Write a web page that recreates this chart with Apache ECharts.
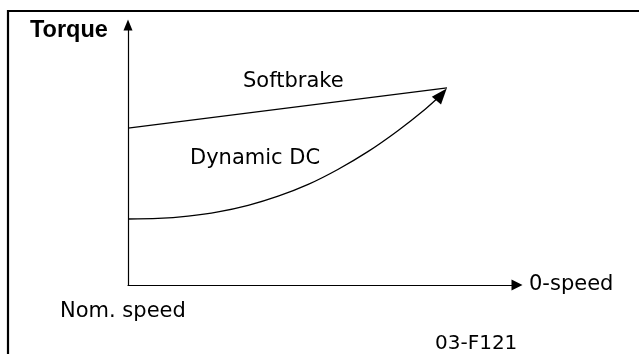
<!DOCTYPE html>
<html>
<head>
    <meta charset="utf-8">
    <title>Torque</title>
    <script src="https://cdn.jsdelivr.net/npm/echarts@6/dist/echarts.min.js"></script>
    <style>
        html, body { margin: 0; padding: 0; background: #fff; }
        #chart1 { width: 639px; height: 354px; }
    </style>
</head>
<body>
<div id="chart1"></div>
<script type="text/javascript">
    // speed axis runs 0 (nom. speed) -> 100 (towards 0-speed), torque 0..100
    var softbrake = [[0, 59.9], [81.8, 75.2]];
    var dynamicDC = [[0, 25.2], [7.7, 25.4], [15.4, 26.3], [23.1, 27.9], [30.8, 30.4],
        [38.5, 33.9], [46.2, 38.4], [53.8, 44.1], [61.5, 50.9], [69.2, 58.9],
        [76.2, 67.1], [80.4, 72.7]];
    var curveNames = ['Softbrake', 'Dynamic DC'];
    var axisNames = ['0-speed', 'Torque', 'Nom. speed'];
    var figureId = '03-F121';

    var font = "'DejaVu Sans', Verdana, sans-serif";
    var boldFont = "'Liberation Sans', Arial, sans-serif";

    // 最后一个点画成箭头
    var dcData = dynamicDC.map(function (p, i) {
        if (i === dynamicDC.length - 1) {
            return {
                value: p,
                symbol: 'triangle',
                symbolSize: [12, 16],
                symbolRotate: -40,
                itemStyle: { color: '#000' }
            };
        }
        return { value: p, symbol: 'none' };
    });

    var myChart1 = echarts.init(document.getElementById('chart1'));
    myChart1.setOption({
        animation: false,
        grid: { left: 128, right: 121, top: 23, bottom: 69 },
        xAxis: {
            type: 'value', min: 0, max: 100,
            name: axisNames[0], nameLocation: 'end', nameGap: 11,
            nameTextStyle: { fontFamily: font, fontSize: 21, color: '#000', padding: [0, 0, 2, 0] },
            axisLine: { onZero: false, symbol: ['none', 'triangle'], symbolSize: [11, 11],
                symbolOffset: [0, -1],
                lineStyle: { color: '#000', width: 1.2 } },
            axisTick: { show: false }, axisLabel: { show: false }, splitLine: { show: false }
        },
        yAxis: {
            type: 'value', min: 0, max: 100,
            axisLine: { show: true, onZero: false, symbol: ['none', 'triangle'], symbolSize: [9, 11],
                symbolOffset: [0, -2],
                lineStyle: { color: '#000', width: 1.2 } },
            axisTick: { show: false }, axisLabel: { show: false }, splitLine: { show: false }
        },
        series: [
            {
                name: curveNames[0], type: 'line', data: softbrake,
                symbol: 'none', lineStyle: { color: '#000', width: 1.3 }
            },
            {
                name: curveNames[1], type: 'line', data: dcData,
                smooth: 0.3, showSymbol: true,
                lineStyle: { color: '#000', width: 1.3 }
            }
        ],
        graphic: [
            { type: 'polyline', shape: { points: [[8, 354], [8, 11], [639, 11]] },
                style: { stroke: '#000', lineWidth: 2.2, fill: null } },
            { type: 'text', x: 30, y: 31,
                style: { text: axisNames[1], font: 'bold 23.5px ' + boldFont, fill: '#000', verticalAlign: 'middle' } },
            { type: 'text', x: 243, y: 82,
                style: { text: curveNames[0], font: '21px ' + font, fill: '#000', verticalAlign: 'middle' } },
            { type: 'text', x: 190, y: 159,
                style: { text: curveNames[1], font: '21px ' + font, fill: '#000', verticalAlign: 'middle' } },
            { type: 'text', x: 60, y: 312,
                style: { text: axisNames[2], font: '21px ' + font, fill: '#000', verticalAlign: 'middle' } },
            { type: 'text', x: 435, y: 344,
                style: { text: figureId, font: '20px ' + font, fill: '#000', verticalAlign: 'middle' } }
        ]
    });
</script>
</body>
</html>
